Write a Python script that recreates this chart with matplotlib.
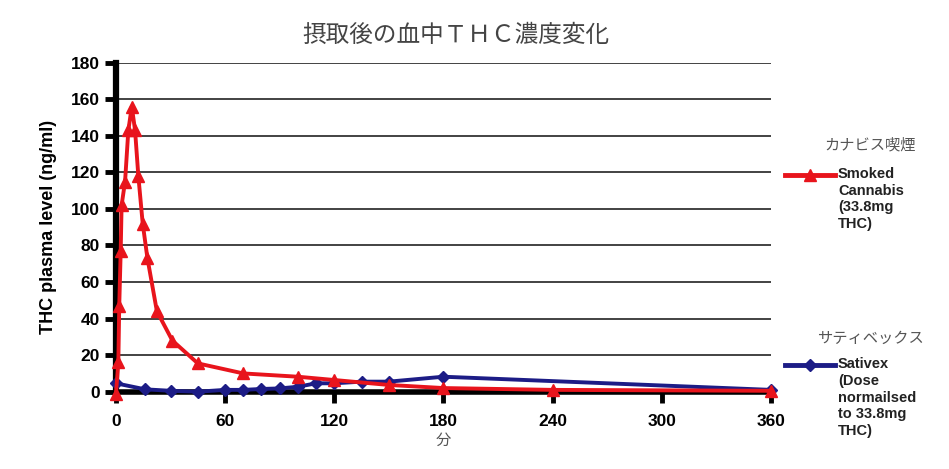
import matplotlib
matplotlib.use("Agg")
import matplotlib.pyplot as plt
from matplotlib.lines import Line2D

plt.rcParams['font.family'] = ['Liberation Sans', 'Noto Sans CJK JP', 'DejaVu Sans']

title = "摂取後の血中ＴＨＣ濃度変化"
xlabel = "分"
ylabel = "THC plasma level (ng/ml)"

smoked_t = [0, 1.3, 1.8, 2.6, 3.1, 5, 6.8, 8.7, 10.5, 12.3, 14.7, 17.3, 22.5, 31, 45,
            70, 100, 120, 150, 180, 240, 360]
smoked_v = [-1, 16, 47, 77, 102, 115, 143, 156, 143, 118, 92, 73, 44, 28, 15.5,
            10, 8.2, 6.4, 3.7, 2, 1, 0.5]

sativex_t = [0, 16, 30, 45, 60, 70, 80, 90, 100, 110, 120, 135, 150, 180, 360]
sativex_v = [4.6, 1.3, 0.5, 0, 1, 1, 1.5, 1.8, 2.7, 4.6, 4.6, 5.5, 5.5, 8.2, 1]

xticks = [0, 60, 120, 180, 240, 300, 360]
yticks = list(range(0, 181, 20))

smoked_jp = "カナビス喫煙"
smoked_en = "Smoked\nCannabis\n(33.8mg\nTHC)"
sativex_jp = "サティベックス"
sativex_en = "Sativex\n(Dose\nnormailsed\nto 33.8mg\nTHC)"

red = "#e8141c"
navy = "#1c1c86"

fig = plt.figure(figsize=(9.49, 4.69), dpi=100)
ax = fig.add_axes([0.1222, 0.1648, 0.690, 0.7015])

ax.set_xlim(0, 360)
ax.set_ylim(0, 180)
ax.set_yticks(yticks)
ax.set_xticks(xticks)
ax.yaxis.grid(True, color="#222222", linewidth=1.2)
ax.set_axisbelow(True)

for s in ["top", "right"]:
    ax.spines[s].set_visible(False)
ax.spines["left"].set_linewidth(4.5)
ax.spines["bottom"].set_linewidth(4.0)
ax.tick_params(axis="both", direction="out", length=8, width=3.5, color="black",
               labelsize=12.5)
for lab in ax.get_xticklabels() + ax.get_yticklabels():
    lab.set_fontweight("bold")
ax.tick_params(axis="x", pad=8)

ax.plot(sativex_t, sativex_v, color=navy, lw=2.8, marker="D", ms=6.5,
        clip_on=False, zorder=4)
ax.plot(smoked_t, smoked_v, color=red, lw=2.8, marker="^", ms=8,
        clip_on=False, zorder=5)

ax.set_ylabel(ylabel, fontsize=13, fontweight="bold", labelpad=10)
ax.set_xlabel(xlabel, fontsize=11, color="#555555", labelpad=2,
              family=['Noto Sans CJK JP'])
fig.text(0.48, 0.925, title, ha="center", va="center", fontsize=17,
         color="#444444", family=['Noto Sans CJK JP'])

# legend-like annotations
y1 = 1 - 175 / 469
fig.add_artist(Line2D([785/949, 835/949], [y1, y1], color=red, lw=3.5))
fig.add_artist(Line2D([810/949], [y1], color=red, marker="^", ms=8, lw=0))
fig.text(870/949, 1-145/469, smoked_jp, ha="center", va="center", fontsize=11,
         color="#555555", family=['Noto Sans CJK JP'])
fig.text(838/949, 1-167/469, smoked_en, ha="left", va="top", fontsize=10.5,
         color="#222222", fontweight="bold", linespacing=1.25)

y2 = 1 - 365 / 469
fig.add_artist(Line2D([785/949, 835/949], [y2, y2], color=navy, lw=3.5))
fig.add_artist(Line2D([810/949], [y2], color=navy, marker="D", ms=6, lw=0))
fig.text(870/949, 1-338/469, sativex_jp, ha="center", va="center", fontsize=11,
         color="#555555", family=['Noto Sans CJK JP'])
fig.text(838/949, 1-357/469, sativex_en, ha="left", va="top", fontsize=10.5,
         color="#222222", fontweight="bold", linespacing=1.25)

fig.savefig("out.png", dpi=100)
